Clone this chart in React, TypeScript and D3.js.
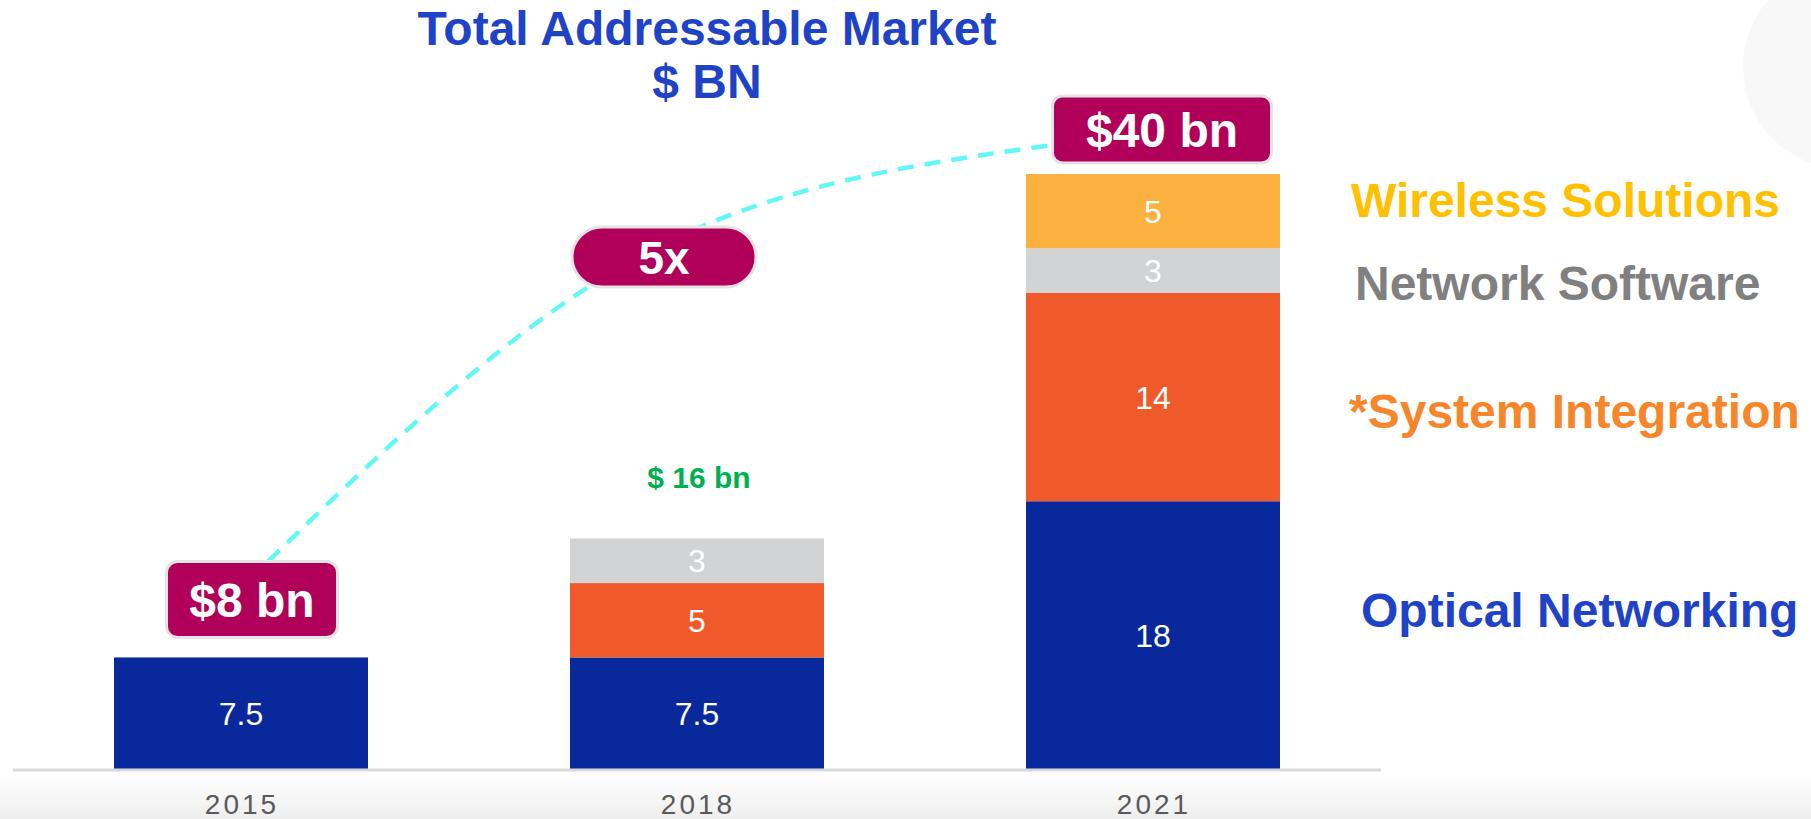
import React from "react";
import * as d3 from "d3";

// ---------- data ----------
const years = ["2015", "2018", "2021"];
const opticalNetworking = [7.5, 7.5, 18];
const systemIntegration = [0, 5, 14];
const networkSoftware = [0, 3, 3];
const wirelessSolutions = [0, 0, 5];
const totalLabels = ["$8 bn", "$ 16 bn", "$40 bn"];
const growthLabel = "5x";
const seriesKeys = ["Optical Networking", "*System Integration", "Network Software", "Wireless Solutions"];
const seriesValues = [opticalNetworking, systemIntegration, networkSoftware, wirelessSolutions];
const segmentColors = ["#08289c", "#f05a2a", "#d1d3d4", "#fbb040"];
const legendColors = ["#1f43c6", "#f7862a", "#808080", "#ffc000"];

// ---------- layout ----------
const W = 1811;
const H = 819;
const FONT = "'Liberation Sans', Arial, Helvetica, sans-serif";
const legendLayout = [
  { x: 1361, y: 627 },
  { x: 1349, y: 428 },
  { x: 1355, y: 300 },
  { x: 1351, y: 217 },
];

export default function App() {
  const x = d3
    .scaleBand<string>()
    .domain(years)
    .range([13, 1381])
    .paddingInner(0.443)
    .paddingOuter(0.2215);
  const y = d3.scaleLinear().domain([0, 40]).range([769, 174]);
  const bw = x.bandwidth();

  const table = years.map((yr, i) => {
    const row: any = { year: yr };
    seriesKeys.forEach((k, j) => (row[k] = seriesValues[j][i]));
    return row;
  });
  const stacked = d3.stack<any>().keys(seriesKeys)(table);

  const cx = (yr: string) => (x(yr) as number) + bw / 2;
  const topOf = (i: number) => y(d3.sum(seriesValues, (s) => s[i]));

  // annotation boxes
  const box8 = { w: 171, h: 76, cx: cx(years[0]) + 11, bottom: topOf(0) - 20 };
  const box40 = { w: 219, h: 67, cx: cx(years[2]) + 9, bottom: topOf(2) - 11 };
  const pill = { w: 184, h: 60, cx: cx(years[1]) - 33, cy: 257 };

  const connectorPts: [number, number][] = [
    [box8.cx + 16, box8.bottom - box8.h],
    [pill.cx - 18, pill.cy - 4],
    [box40.cx - box40.w / 2, box40.bottom - box40.h + 49],
  ];
  const connector = d3.line().curve(d3.curveNatural)(connectorPts) || "";

  return (
    <svg
      width={W}
      height={H}
      style={{ position: "absolute", left: 0, top: 0, display: "block", background: "#fff" }}
      fontFamily={FONT}
    >
      <defs>
        <linearGradient id="bottomFade" x1="0" y1="0" x2="0" y2="1">
          <stop offset="0" stopColor="#ffffff" />
          <stop offset="1" stopColor="#eeeeee" />
        </linearGradient>
      </defs>
      <rect x={0} y={0} width={W} height={H} fill="#ffffff" />
      <circle cx={1845} cy={67} r={102} fill="#f8f8f8" />
      <rect x={0} y={775} width={W} height={H - 775} fill="url(#bottomFade)" />

      {/* title */}
      <text x={707} y={45} textAnchor="middle" fontSize={48} fontWeight="bold" fill="#1f43c6">
        Total Addressable Market
      </text>
      <text x={707} y={98} textAnchor="middle" fontSize={48} fontWeight="bold" fill="#1f43c6">
        $ BN
      </text>

      {/* connector */}
      <path d={connector} fill="none" stroke="#62f8f8" strokeWidth={4.5} strokeDasharray="16 11" />

      {/* bars */}
      {stacked.map((layer, j) => (
        <g key={layer.key}>
          {layer.map((d, i) => {
            const v = d[1] - d[0];
            if (v <= 0) return null;
            const y0 = y(d[0]);
            const y1 = y(d[1]);
            return (
              <g key={i}>
                <rect x={x(years[i])} y={y1} width={bw} height={y0 - y1} fill={segmentColors[j]} />
                <text
                  x={cx(years[i])}
                  y={(y0 + y1) / 2}
                  dy="0.36em"
                  textAnchor="middle"
                  fontSize={32}
                  fill="#ffffff"
                >
                  {String(v)}
                </text>
              </g>
            );
          })}
        </g>
      ))}

      {/* axis */}
      <line x1={x.range()[0]} x2={x.range()[1]} y1={y(0) + 1} y2={y(0) + 1} stroke="#d9d9d9" strokeWidth={3} />
      {years.map((yr) => (
        <text
          key={yr}
          x={cx(yr) + 1}
          y={814}
          textAnchor="middle"
          fontSize={28}
          letterSpacing={3}
          fill="#595959"
        >
          {yr}
        </text>
      ))}

      {/* totals */}
      <rect
        x={box8.cx - box8.w / 2}
        y={box8.bottom - box8.h}
        width={box8.w}
        height={box8.h}
        rx={11}
        fill="#b0005a"
        stroke="#e4e4e4"
        strokeWidth={3}
      />
      <text
        x={box8.cx}
        y={box8.bottom - box8.h / 2}
        dy="0.36em"
        textAnchor="middle"
        fontSize={48}
        fontWeight="bold"
        fill="#ffffff"
      >
        {totalLabels[0]}
      </text>

      <text x={cx(years[1]) + 2} y={topOf(1) - 50} textAnchor="middle" fontSize={30} fontWeight="bold" fill="#00b050">
        {totalLabels[1]}
      </text>

      <rect
        x={box40.cx - box40.w / 2}
        y={box40.bottom - box40.h}
        width={box40.w}
        height={box40.h}
        rx={10}
        fill="#b0005a"
        stroke="#e4e4e4"
        strokeWidth={3}
      />
      <text
        x={box40.cx}
        y={box40.bottom - box40.h / 2}
        dy="0.36em"
        textAnchor="middle"
        fontSize={48}
        fontWeight="bold"
        fill="#ffffff"
      >
        {totalLabels[2]}
      </text>

      <rect
        x={pill.cx - pill.w / 2}
        y={pill.cy - pill.h / 2}
        width={pill.w}
        height={pill.h}
        rx={pill.h / 2}
        fill="#b0005a"
        stroke="#e4e4e4"
        strokeWidth={3}
      />
      <text x={pill.cx} y={pill.cy} dy="0.36em" textAnchor="middle" fontSize={46} fontWeight="bold" fill="#ffffff">
        {growthLabel}
      </text>

      {/* legend */}
      {seriesKeys.map((k, j) => (
        <text key={k} x={legendLayout[j].x} y={legendLayout[j].y} fontSize={48} fontWeight="bold" fill={legendColors[j]}>
          {k}
        </text>
      ))}
    </svg>
  );
}
